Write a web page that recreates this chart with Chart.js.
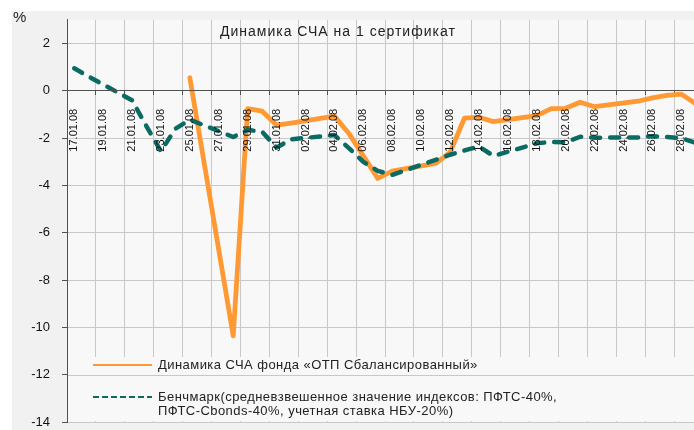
<!DOCTYPE html>
<html><head><meta charset="utf-8">
<script src="https://cdn.jsdelivr.net/npm/chart.js@4/dist/chart.umd.min.js"></script>
<style>
html,body{margin:0;padding:0;background:#fff;overflow:hidden;}
#wrap{width:694px;height:430px;overflow:hidden;position:relative;}
canvas{display:block;}
</style></head><body>
<div id="wrap"><canvas id="c" width="730" height="442"></canvas></div>
<script>
const dates = ['17.01.08','18.01.08','19.01.08','20.01.08','21.01.08','22.01.08','23.01.08','24.01.08','25.01.08','26.01.08','27.01.08','28.01.08','29.01.08','30.01.08','31.01.08',
'01.02.08','02.02.08','03.02.08','04.02.08','05.02.08','06.02.08','07.02.08','08.02.08','09.02.08','10.02.08','11.02.08','12.02.08','13.02.08','14.02.08','15.02.08','16.02.08','17.02.08','18.02.08','19.02.08','20.02.08','21.02.08','22.02.08','23.02.08','24.02.08','25.02.08','26.02.08','27.02.08','28.02.08','29.02.08'];
const fundValues = [null,null,null,null,null,null,null,null,0.55,null,null,-10.35,-0.75,-0.86,-1.45,
-1.36,null,null,-1.07,-1.8,-2.75,-3.7,-3.39,null,null,-3.07,-2.6,-1.15,-1.12,-1.3,null,null,-1.05,-0.75,-0.74,-0.48,-0.67,null,null,-0.44,-0.3,-0.19,-0.14,-0.55];
const benchValues = [0.95,0.6,null,null,-0.4,-1.5,-2.55,-1.6,-1.22,null,null,-1.95,-1.65,-1.73,-2.4,
-2.05,null,null,-1.87,-2.42,-3.0,-3.38,-3.55,null,null,-2.92,-2.7,-2.52,-2.35,-2.75,null,null,-2.22,-2.16,-2.17,-1.94,-1.98,null,null,-1.97,-1.92,-1.95,-2.0,-2.2];
const yTicks = [-14,-12,-10,-8,-6,-4,-2,0,2];
const titleText = 'Динамика СЧА на 1 сертификат';
const unitText = '%';
const fundLabel = 'Динамика СЧА фонда «ОТП Сбалансированный»';
const benchLabel = ['Бенчмарк(средневзвешенное значение индексов: ПФТС-40%,', 'ПФТС-Cbonds-40%, учетная ставка НБУ-20%)'];

const FONT = '"Liberation Sans", Arial, sans-serif';
const ORANGE = '#ff9933', TEAL = '#0b6b63', GRID = '#c8c8c8', AXIS = '#505050';

const bgPlugin = {
  id: 'bg',
  beforeDraw(chart) {
    const {ctx, chartArea: a} = chart;
    ctx.save();
    ctx.fillStyle = '#ffffff'; ctx.fillRect(0, 0, chart.width, chart.height);
    ctx.fillStyle = '#f1f1f1'; ctx.fillRect(12, 11, chart.width - 12, chart.height - 11);
    ctx.fillStyle = '#f8f8f8'; ctx.fillRect(a.left, a.top, a.right - a.left, a.bottom - a.top);
    ctx.restore();
  },
  beforeDatasetsDraw(chart) {
    const {ctx, chartArea: a} = chart;
    const ys = chart.scales.y;
    ctx.save();
    ctx.fillStyle = '#f8f8f8';
    ctx.fillRect(a.left + 1, 357, a.right - a.left - 1, a.bottom - 357 - 1);
    const y12 = Math.round(ys.getPixelForValue(-12)) + 0.5;
    ctx.strokeStyle = GRID; ctx.lineWidth = 1;
    ctx.beginPath(); ctx.moveTo(a.left, y12); ctx.lineTo(a.right, y12); ctx.stroke();
    ctx.restore();
  },
  afterDraw(chart) {
    const {ctx} = chart;
    ctx.save();
    ctx.fillStyle = '#222';
    ctx.textBaseline = 'middle';
    ctx.font = '14px ' + FONT;
    ctx.letterSpacing = '1px';
    ctx.fillText(titleText, 220, 32);
    ctx.letterSpacing = '0px';
    ctx.font = '15px ' + FONT;
    ctx.fillText(unitText, 13, 18);
    // legend
    ctx.font = '13px ' + FONT;
    ctx.letterSpacing = '0.45px';
    ctx.lineWidth = 2;
    ctx.strokeStyle = ORANGE;
    ctx.beginPath(); ctx.moveTo(93, 365); ctx.lineTo(152, 365); ctx.stroke();
    ctx.fillText(chart.data.datasets[0].label, 158, 365);
    ctx.strokeStyle = TEAL; ctx.setLineDash([6, 3]);
    ctx.beginPath(); ctx.moveTo(93, 397); ctx.lineTo(152, 397); ctx.stroke();
    ctx.setLineDash([]);
    ctx.fillText(benchLabel[0], 158, 397);
    ctx.fillText(benchLabel[1], 158, 411);
    ctx.restore();
  }
};

new Chart(document.getElementById('c'), {
  type: 'line',
  data: {
    labels: dates,
    datasets: [
      {label: fundLabel, data: fundValues, borderColor: ORANGE, backgroundColor: ORANGE, borderWidth: 4.8,
       pointRadius: 0, spanGaps: true, tension: 0, borderJoinStyle: 'round', borderCapStyle: 'round', order: 1},
      {label: benchLabel.join(' '), data: benchValues, borderColor: TEAL, backgroundColor: TEAL, borderWidth: 4.5,
       borderDash: [9, 10], pointRadius: 0, spanGaps: true, tension: 0, borderJoinStyle: 'round', borderCapStyle: 'round', order: 0}
    ]
  },
  options: {
    responsive: false, animation: false, devicePixelRatio: 1,
    layout: {padding: {left: 0, top: 18, right: 27, bottom: 9}},
    plugins: {legend: {display: false}, tooltip: {enabled: false}, title: {display: false}},
    scales: {
      x: {
        type: 'category', position: {y: 0}, offset: true,
        grid: {offset: true, lineWidth: 1, tickLength: 4,
               color: c => c.index % 2 === 0 ? GRID : 'rgba(0,0,0,0)',
               tickColor: c => c.index % 2 === 0 ? AXIS : 'rgba(0,0,0,0)'},
        border: {color: AXIS, width: 1, z: 1},
        ticks: {autoSkip: false, minRotation: 90, maxRotation: 90, padding: 14, z: 1, color: '#111',
                font: {family: FONT, size: 11},
                callback(v, i) { return i % 2 === 0 ? this.getLabelForValue(v) : ''; }}
      },
      y: {
        min: -14, max: 3,
        afterBuildTicks: s => { s.ticks = yTicks.map(v => ({value: v})); },
        afterFit: s => { s.width = 67; },
        grid: {color: c => (c.tick && c.tick.value === 0) ? 'rgba(0,0,0,0)' : GRID, tickColor: AXIS, tickLength: 5},
        border: {color: AXIS, width: 1, z: 1},
        ticks: {padding: 12, color: '#111', font: {family: FONT, size: 13}}
      }
    }
  },
  plugins: [bgPlugin]
});
</script>
</body></html>
